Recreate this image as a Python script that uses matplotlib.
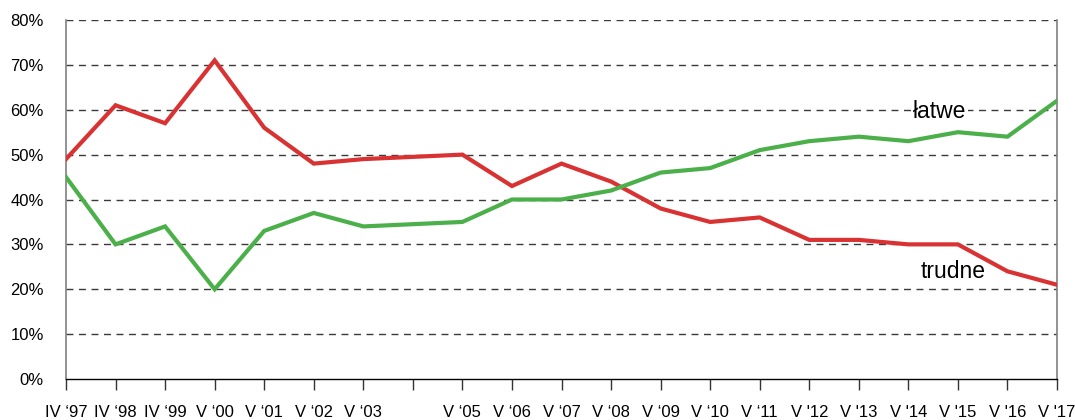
import matplotlib.pyplot as plt
import numpy as np

plt.rcParams['font.family'] = ['Liberation Sans', 'DejaVu Sans']

labels = ['IV \u201897', 'IV \u201898', 'IV \u201899', 'V \u201800', 'V \u201801', 'V \u201802',
          'V \u201803', '', 'V \u201805', 'V \u201806', 'V \u201807', 'V \u201808', 'V \u201809',
          'V \u201810', 'V \u201811', "V '12", "V '13", "V '14", "V '15", "V '16", "V '17"]
# position 7 ('04) has no survey
survey_idx = [0, 1, 2, 3, 4, 5, 6, 8, 9, 10, 11, 12, 13, 14, 15, 16, 17, 18, 19, 20]
trudne = [49, 61, 57, 71, 56, 48, 49, 50, 43, 48, 44, 38, 35, 36, 31, 31, 30, 30, 24, 21]
latwe = [45, 30, 34, 20, 33, 37, 34, 35, 40, 40, 42, 46, 47, 51, 53, 54, 53, 55, 54, 62]

fig = plt.figure(figsize=(10.75, 4.2), dpi=100)
ax = fig.add_axes([66/1075, 1 - 379/420, (1057 - 66)/1075, (379 - 20)/420])

for y in range(10, 90, 10):
    ax.axhline(y, color='#3a3a3a', lw=1, ls=(0, (5, 4)), zorder=1)

ax.plot(survey_idx, trudne, color='#d93232', lw=3, solid_joinstyle='miter', zorder=3)
ax.plot(survey_idx, latwe, color='#4cb04a', lw=3, solid_joinstyle='miter', zorder=3)

ax.set_xlim(0, 20)
ax.set_ylim(0, 80)
ax.set_xticks(np.arange(21))
ax.set_xticklabels(labels, fontsize=12)
ax.set_yticks(range(0, 90, 10))
ax.set_yticklabels([f'{v}%' for v in range(0, 90, 10)], fontsize=12)
ax.tick_params(axis='y', length=0, pad=16)
ax.tick_params(axis='x', length=8, width=1, color='#333333', pad=11)

for side in ['left', 'right']:
    ax.spines[side].set_color('#808080')
    ax.spines[side].set_linewidth(1.2)
ax.spines['top'].set_visible(False)
ax.spines['bottom'].set_color('black')
ax.spines['bottom'].set_linewidth(1)

# series labels, placed in pixel space (origin bottom-left)
box = dict(facecolor='white', edgecolor='none', pad=1)
ax.text(940, 420 - 111, '\u0142atwe', transform=None, fontsize=16.5,
        ha='center', va='center', bbox=box, zorder=2)
ax.text(953, 420 - 271, 'trudne', transform=None, fontsize=16.5,
        ha='center', va='center', bbox=box, zorder=2)

fig.savefig('out.png', dpi=100)
